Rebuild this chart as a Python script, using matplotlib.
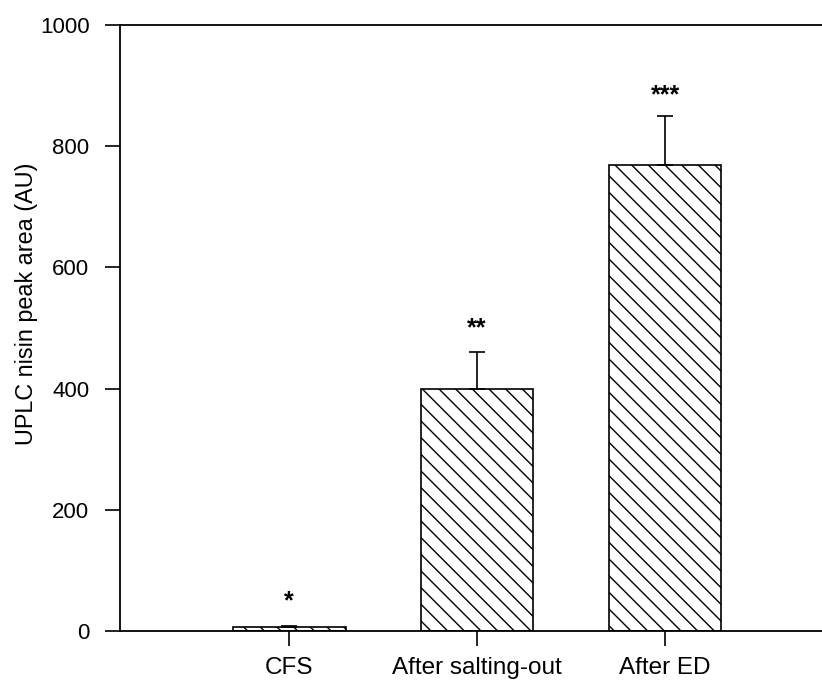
import matplotlib
matplotlib.use("Agg")
import matplotlib.pyplot as plt
import numpy as np

categories = ["CFS", "After salting-out", "After ED"]
values = [6, 400, 769]
errors = [3, 60, 81]
stars = ["*", "**", "***"]
star_y = [38, 488, 873]
yticks = [0, 200, 400, 600, 800, 1000]

plt.rcParams['font.family'] = ['Liberation Sans', 'DejaVu Sans']
plt.rcParams['hatch.linewidth'] = 1.0

fig = plt.figure(figsize=(8.22, 6.82), dpi=100)
ax = fig.add_axes([120/822, (682-631)/682, (822-120)/822, (631-25)/682])

x = np.arange(len(categories))
ax.bar(x, values, width=0.6, facecolor='white', edgecolor='black', hatch='\\\\', linewidth=1.2, zorder=2)
ax.errorbar(x, values, yerr=[np.zeros(len(errors)), errors], fmt='none', ecolor='black',
            elinewidth=1.2, capsize=5.5, capthick=1.2, zorder=3)
for xi, s, yy in zip(x, stars, star_y):
    ax.text(xi, yy, s, ha='center', va='baseline', fontsize=18, fontweight='bold', color='black')

ax.set_xlim(-0.9, 2.835)
ax.set_ylim(0, 1000)
ax.set_xticks(x)
ax.set_xticklabels(categories, fontsize=17.5)
ax.set_yticks(yticks)
ax.set_yticklabels([str(t) for t in yticks], fontsize=16)
ax.set_ylabel("UPLC nisin peak area (AU)", fontsize=16.8)
ax.yaxis.set_label_coords(-0.117, 0.54)
ax.tick_params(axis='y', direction='out', length=11, width=1.2, pad=11)
ax.tick_params(axis='x', direction='out', length=11, width=1.2, pad=8)
ax.spines['right'].set_visible(False)
for sp in ['left', 'bottom', 'top']:
    ax.spines[sp].set_linewidth(1.3)
fig.savefig("out.png", dpi=100)
